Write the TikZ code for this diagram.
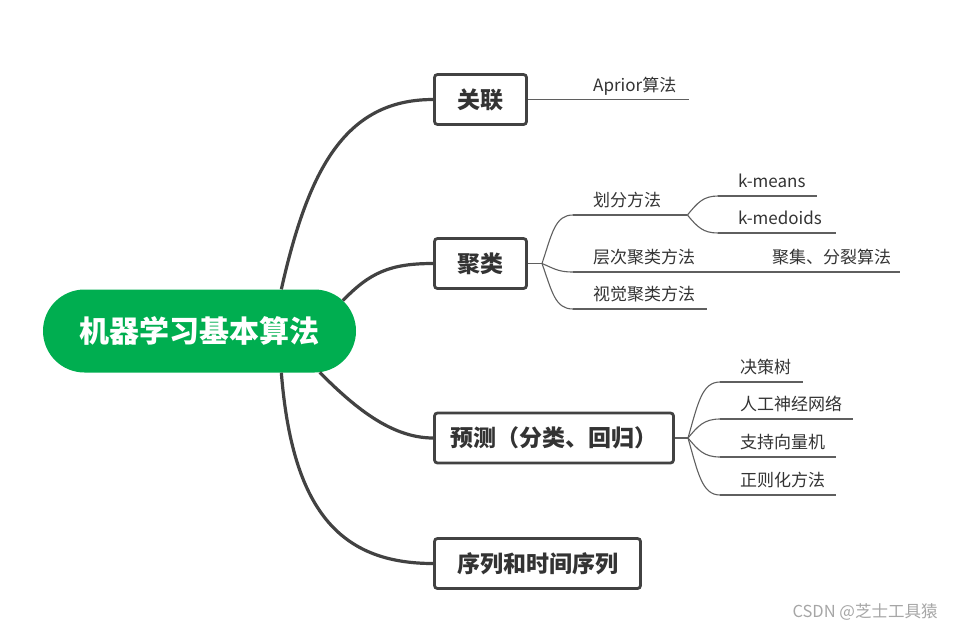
\documentclass[tikz,border=0pt]{standalone}
\usepackage{fontspec}
\setmainfont{Noto Sans CJK SC}
\usetikzlibrary{shapes.misc}
\definecolor{rootgreen}{RGB}{0,174,80}
\definecolor{linegray}{RGB}{66,66,66}
\definecolor{leafgray}{RGB}{95,95,95}
\definecolor{txtgray}{RGB}{51,51,51}

\begin{document}
\begin{tikzpicture}[x=1pt,y=-1pt,
    root/.style={rounded rectangle,fill=rootgreen,text=white,inner sep=0pt,minimum width=313pt,minimum height=83pt,font=\fontsize{30}{34}\selectfont\bfseries},
    topic/.style={draw=linegray,line width=2.8pt,rounded corners=3pt,fill=white,text=txtgray,inner sep=0pt,minimum height=50pt,font=\fontsize{23}{26}\selectfont\bfseries},
    leaf/.style={anchor=south west,inner sep=0pt,text depth=8pt,text width=#1,align=left,text=txtgray,font=\fontsize{17}{20}\selectfont,execute at begin node={\noindent\hspace*{20pt}}},
    trunk/.style={draw=linegray,line width=3.2pt},
    twig/.style={draw=leafgray,line width=1.1pt}]
  \useasboundingbox (0,0) rectangle (966,632);

  \node[root] (root) at (199.5,331) {机器学习基本算法};
  \node[topic,minimum width=92pt] (gl1) at (480.5,99.5) {关联};
  \node[topic,minimum width=92pt] (gl2) at (480.5,263.5) {聚类};
  \node[topic,minimum width=239pt] (gl3) at (554,438) {预测（分类、回归）};
  \node[topic,minimum width=206pt] (gl4) at (537.5,563.5) {序列和时间序列};

  \coordinate (j2) at (542,263.5); \coordinate (j3) at (688,438);
  \node[leaf=116pt] (a1) at (573,99.5) {Aprior算法};
  \node[leaf=114pt] (c1) at (573,215) {划分方法}; \node[leaf=135pt] (c2) at (573,272) {层次聚类方法}; \node[leaf=134pt] (c3) at (573,309) {视觉聚类方法};
  \node[leaf=148pt] (c21) at (752,272) {聚集、分裂算法};
  \node[leaf=99pt] (k1) at (718,196) {k-means}; \node[leaf=118pt] (k2) at (718,233) {k-medoids};
  \node[leaf=83pt] (p1) at (720,382) {决策树}; \node[leaf=133pt] (p2) at (720,419) {人工神经网络}; \node[leaf=116pt] (p3) at (720,457) {支持向量机}; \node[leaf=116pt] (p4) at (720,495) {正则化方法};
  \node[text=gray!70,font=\fontsize{16.5}{19}\selectfont] (wm) at (865,612) {CSDN @芝士工具猿};

  \draw[trunk] (root.27.6) .. controls +(27,-120) and +(-88,0) .. (gl1.west);
  \draw[trunk] (root.12.2) .. controls +(27,-28) and +(-43,0) .. (gl2.west);
  \draw[trunk] (root.-19.2) .. controls +(33,33) and +(-43,0) .. (gl3.west);
  \draw[trunk] (root.-27.5) .. controls +(11,138) and +(-93,0) .. (gl4.west);

  \foreach \n in {a1,c1,c2,c21,c3,k1,k2,p1,p2,p3,p4} \draw[twig] (\n.south west) -- (\n.south east);
  \draw[twig] (gl1.east) -- (a1.south west); \draw[twig] (gl2.east) -- (j2); \draw[twig] (gl3.east) -- (j3); \draw[twig] (c2.south east) -- (c21.south west);
  \draw[twig] (j2) .. controls +(10,-30) and +(-18,0) .. (c1.south west);
  \draw[twig] (j2) .. controls +(12,5) and +(-15,0) .. (c2.south west);
  \draw[twig] (j2) .. controls +(10,28) and +(-18,0) .. (c3.south west);
  \draw[twig] (c1.south east) .. controls +(10,-12) and +(-15,0) .. (k1.south west);
  \draw[twig] (c1.south east) .. controls +(10,12) and +(-15,0) .. (k2.south west);
  \draw[twig] (j3) .. controls +(10,-35) and +(-18,0) .. (p1.south west);
  \draw[twig] (j3) .. controls +(10,-12) and +(-16,0) .. (p2.south west);
  \draw[twig] (j3) .. controls +(10,12) and +(-16,0) .. (p3.south west);
  \draw[twig] (j3) .. controls +(10,35) and +(-18,0) .. (p4.south west);
\end{tikzpicture}
\end{document}
